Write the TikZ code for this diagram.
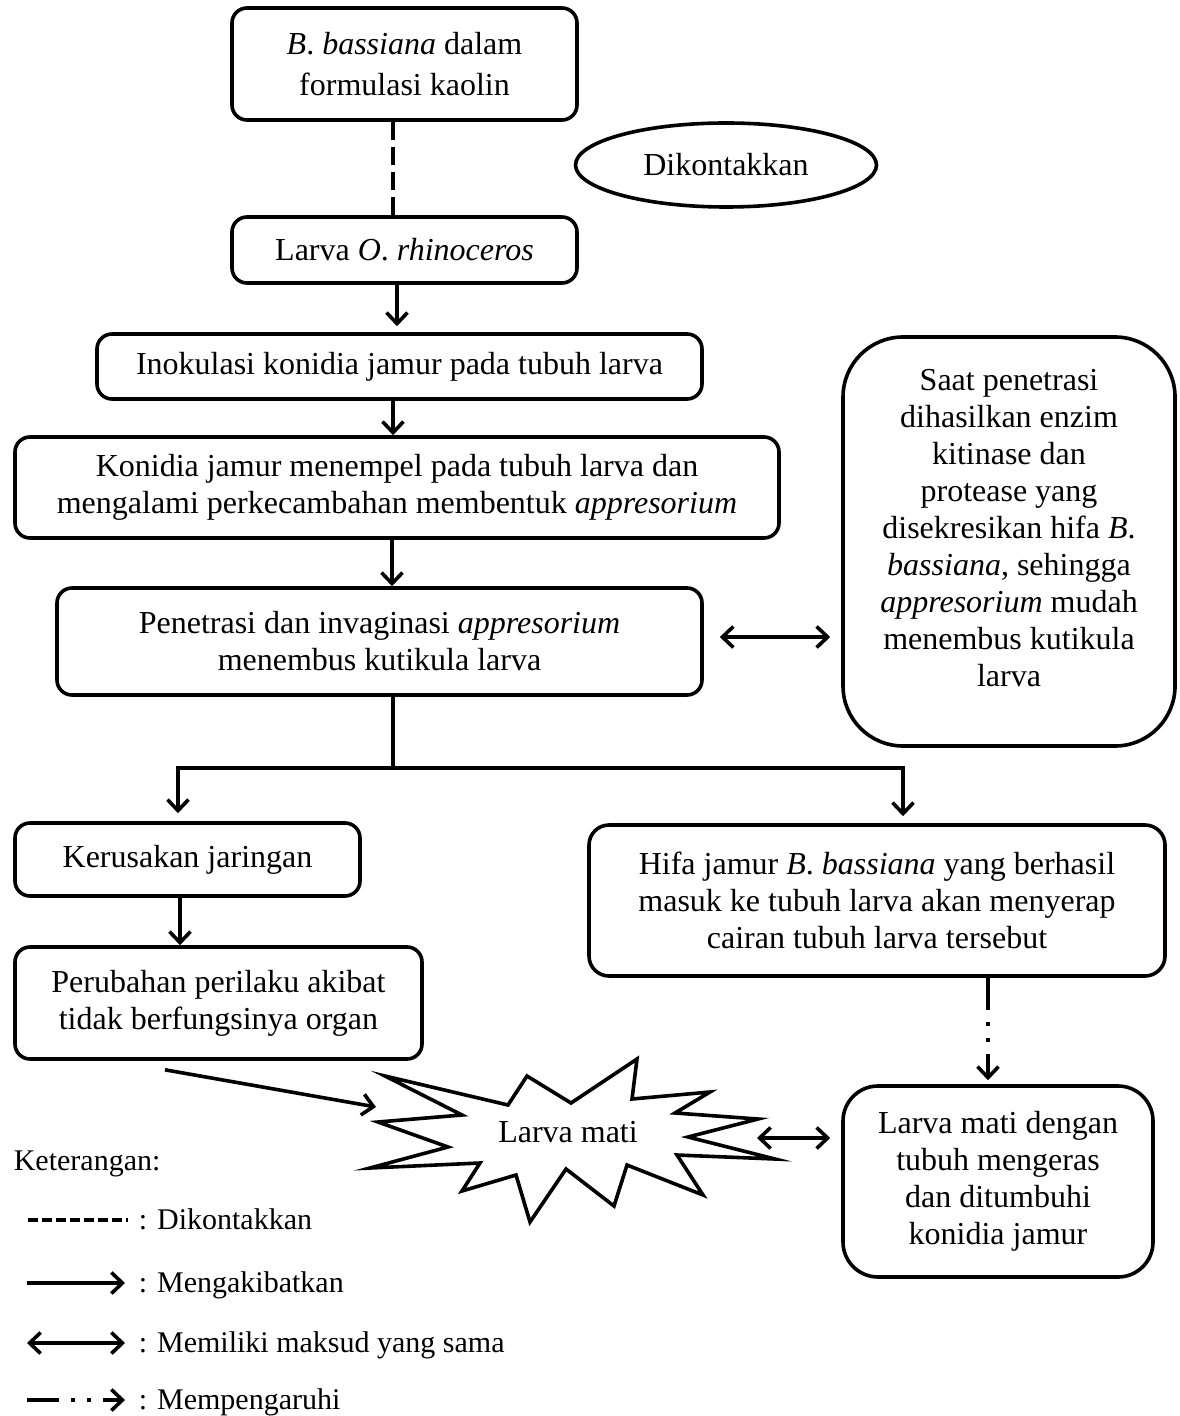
\documentclass[tikz,border=0pt]{standalone}
\usepackage{fontspec}
\setmainfont{Liberation Serif}
\usetikzlibrary{arrows.meta,shapes.geometric}
\begin{document}
\begin{tikzpicture}[x=0.5pt,y=-0.5pt,line width=1.8pt,
    font=\fontsize{16}{18.5}\selectfont,
    box/.style={draw,rounded corners=7.5pt,align=center,inner sep=0pt},
    arr/.style={-{Straight Barb[length=5.5pt,width=10.5pt]}},
    dobel/.style={{Straight Barb[length=5.5pt,width=10.5pt]}-{Straight Barb[length=5.5pt,width=10.5pt]}},
    kontak/.style={dash pattern=on 9pt off 3.5pt},
    pengaruh/.style={arr,dash pattern=on 16pt off 6pt on 2pt off 6pt on 2pt off 6pt},
    ket/.style={anchor=base west,inner sep=0pt,font=\fontsize{15}{18}\selectfont}]
      \useasboundingbox (0,0) rectangle (1179,1416);
      \draw
        (404.5,64) node[box,minimum width=172.5pt,minimum height=56pt] (1){\textit{B}. \textit{bassiana} dalam\\[2pt]formulasi kaolin}
        (404.5,250) node[box,minimum width=172.5pt,minimum height=33pt] (2){Larva \textit{O}. \textit{rhinoceros}}
        (399.5,366.5) node[box,minimum width=302.5pt,minimum height=32.5pt] (3){Inokulasi konidia jamur pada tubuh larva}
        (397,487.5) node[box,minimum width=382pt,minimum height=50.5pt] (4){Konidia jamur menempel pada tubuh larva dan\\mengalami perkecambahan membentuk \textit{appresorium}}
        (379.5,641.5) node[box,minimum width=322.5pt,minimum height=53.5pt] (5){Penetrasi dan invaginasi \textit{appresorium}\\menembus kutikula larva}
        (1009,541.5) node[box,rounded corners=30pt,minimum width=166pt,minimum height=204.5pt] (6){}
        (1009,528.5) node[align=center] (6t){Saat penetrasi\\dihasilkan enzim\\kitinase dan\\protease yang\\disekresikan hifa \textit{B}.\\\textit{bassiana}, sehingga\\\textit{appresorium} mudah\\menembus kutikula\\larva}
        (187.5,859.5) node[box,minimum width=172.5pt,minimum height=36.5pt] (7){Kerusakan jaringan}
        (218.5,1003) node[box,minimum width=203.5pt,minimum height=56pt] (8){Perubahan perilaku akibat\\tidak berfungsinya organ}
        (877,900.5) node[box,rounded corners=10pt,minimum width=288pt,minimum height=75.5pt] (9){Hifa jamur \textit{B}. \textit{bassiana} yang berhasil\\masuk ke tubuh larva akan menyerap\\cairan tubuh larva tersebut}
        (998,1181.5) node[box,rounded corners=17.5pt,minimum width=155pt,minimum height=95.5pt] (10){Larva mati dengan\\tubuh mengeras\\dan ditumbuhi\\konidia jamur}
        (726,165) node[draw,ellipse,inner sep=0pt,minimum width=150.5pt,minimum height=42pt] (11){Dikontakkan};
      % larva mati
      \draw (385,1076) -- (508,1105) -- (527,1076) -- (571,1103) -- (637,1059)
        -- (632,1099) -- (710,1092) -- (675,1113) -- (758,1119) -- (688,1137)
        -- (775,1159) -- (677,1155) -- (703,1195) -- (627,1165) -- (614,1206)
        -- (566,1169) -- (530,1222) -- (516,1175) -- (462,1191) -- (480,1163)
        -- (370,1168) -- (448,1147) -- (378,1122) -- (462,1115) -- cycle;
      \node (12) at (568,1132) {Larva mati};
      \coordinate (12w) at (376,1107);
      \coordinate (12e) at (757,1138);
      \coordinate (fork) at (393,768);
      \begin{scope}
        \draw[kontak] ([xshift=-5.75pt]1.south) -- ([xshift=-5.75pt]2.north);
        \draw[arr,shorten >=3pt] ([xshift=-3.75pt]2.south) -- ([xshift=-1.25pt]3.north);
        \draw[arr] ([xshift=-3.25pt]3.south) -- ([xshift=-2pt]4.north);
        \draw[arr] ([xshift=-2.5pt]4.south) -- ([xshift=6.25pt]5.north);
        \draw[dobel,shorten <=8pt,shorten >=5.5pt] ([yshift=2.25pt]5.east) -- ([yshift=-47.75pt]6.west);
        \draw ([xshift=6.75pt]5.south) -- (fork);
        \draw[arr] (fork) -| ([xshift=-4.75pt,yshift=4pt]7.north);
        \draw[arr] (fork) -| ([xshift=13pt,yshift=3.5pt]9.north);
        \draw[arr] ([xshift=-3.75pt]7.south) -- ([xshift=-19.25pt]8.north);
        \draw[pengaruh,shorten >=2pt] ([xshift=55.5pt]9.south) -- ([xshift=-5pt]10.north);
        \draw[arr] ([xshift=-26.75pt,yshift=-4.5pt]8.south) -- (12w);
        \draw[dobel,shorten >=5.5pt] (12e) -- ([yshift=21.75pt]10.west);
      \end{scope}
      % keterangan
      \node[ket] (k0) at (12,1170) {Keterangan:};
      \node[ket] (k1) at (137,1229) {: Dikontakkan};
      \node[ket] (k2) at (137,1292) {: Mengakibatkan};
      \node[ket] (k3) at (137,1352) {: Memiliki maksud yang sama};
      \node[ket] (k4) at (137,1409) {: Mempengaruhi};
      \draw[dash pattern=on 5pt off 2pt] ([xshift=-54.5pt,yshift=4.5pt]k1.base west) -- ([xshift=-4.5pt,yshift=4.5pt]k1.base west);
      \draw[arr] ([xshift=-55pt,yshift=4.5pt]k2.base west) -- ([xshift=-6pt,yshift=4.5pt]k2.base west);
      \draw[dobel] ([xshift=-55pt,yshift=4.5pt]k3.base west) -- ([xshift=-6pt,yshift=4.5pt]k3.base west);
      \draw[pengaruh] ([xshift=-55pt,yshift=4.5pt]k4.base west) -- ([xshift=-6pt,yshift=4.5pt]k4.base west);
    \end{tikzpicture}
\end{document}
